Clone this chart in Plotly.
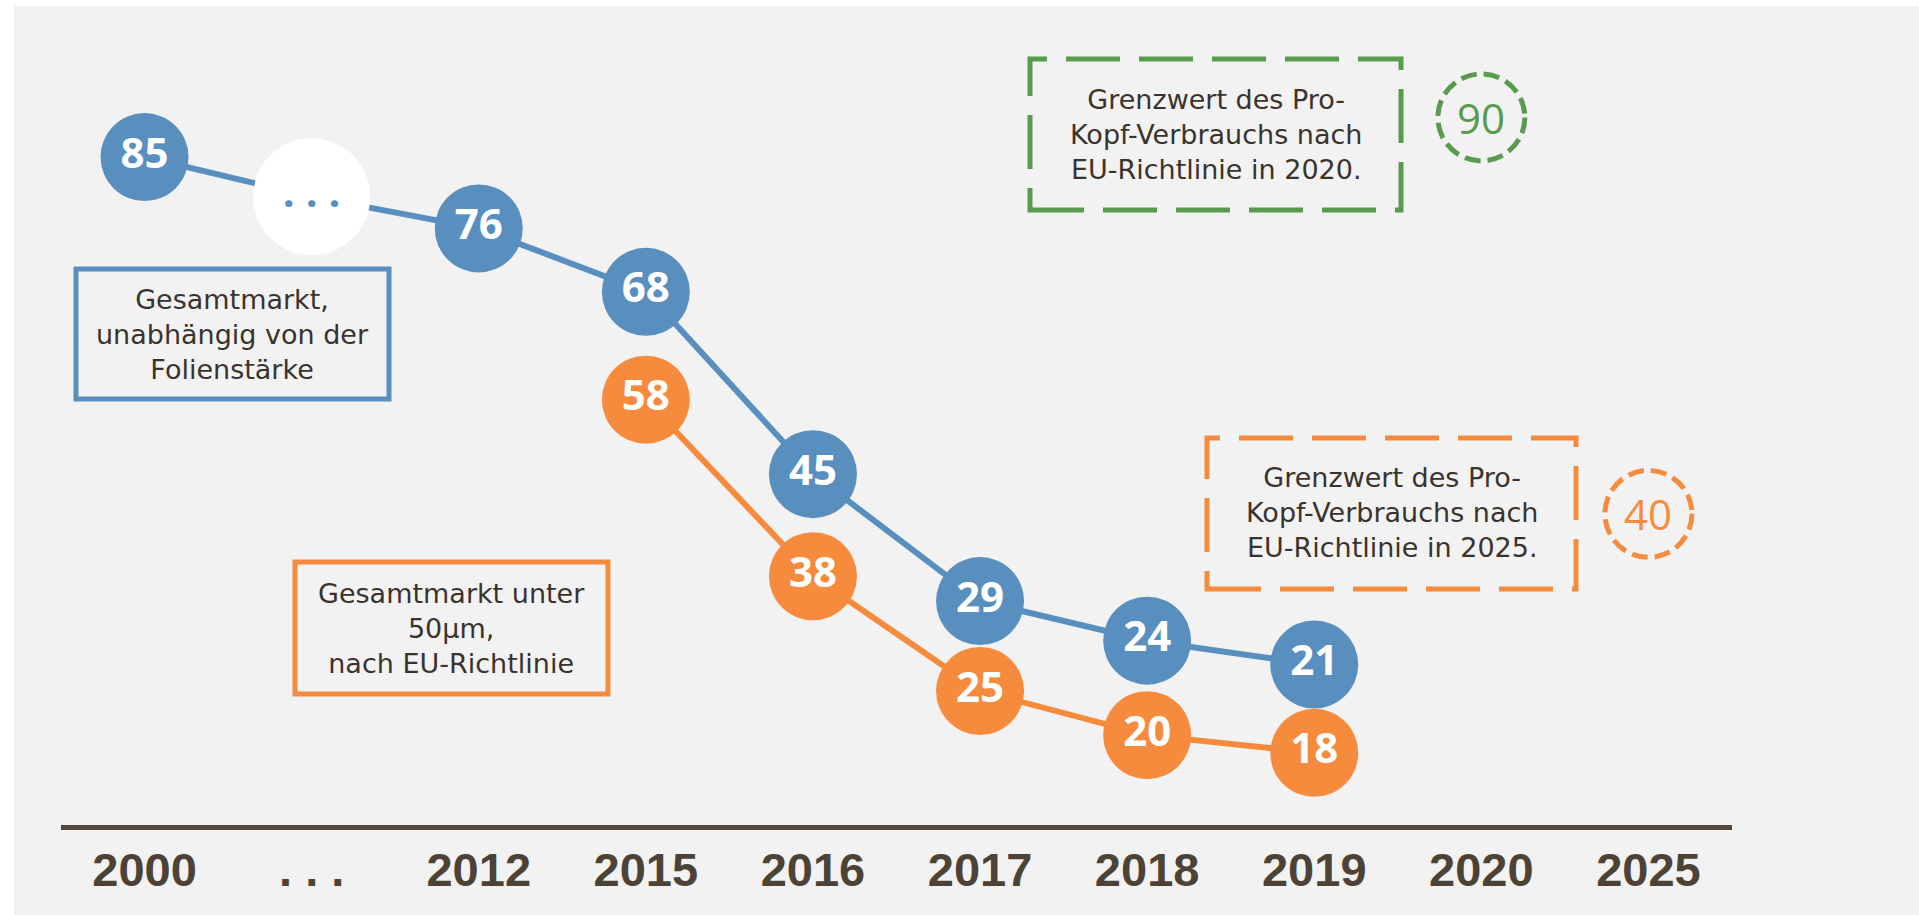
import plotly.graph_objects as go

# ---------------- data ----------------
categories = ["2000", "...", "2012", "2015", "2016", "2017", "2018", "2019", "2020", "2025"]
tick_labels = ["2000", ". . .", "2012", "2015", "2016", "2017", "2018", "2019", "2020", "2025"]

total_years = ["2000", "...", "2012", "2015", "2016", "2017", "2018", "2019"]
total_values = [85, 80, 76, 68, 45, 29, 24, 21]
total_labels = ["85", ". . .", "76", "68", "45", "29", "24", "21"]

thin_years = ["2015", "2016", "2017", "2018", "2019"]
thin_values = [58, 38, 25, 20, 18]

limit_years = ["2020", "2025"]
limit_values = [90, 40]

text_total = "Gesamtmarkt,<br>unabhängig von der<br>Folienstärke"
text_thin = "Gesamtmarkt unter<br>50µm,<br>nach EU-Richtlinie"
text_limit_2020 = "Grenzwert des Pro-<br>Kopf-Verbrauchs nach<br>EU-Richtlinie in 2020."
text_limit_2025 = "Grenzwert des Pro-<br>Kopf-Verbrauchs nach<br>EU-Richtlinie in 2025."

# ---------------- style ----------------
BLUE = "#588fbf"
ORANGE = "#f68b3d"
GREEN = "#5a9a4e"
TEXT = "#3a332d"
AXIS = "#54473a"
BG = "#f2f2f2"

FIG_W, FIG_H = 1919, 915
L, R, T, B = 61, 187, 35, 90
W = FIG_W - L - R
H = FIG_H - T - B


def xp(px):
    return (px - L) / W


def yp(py):
    return (FIG_H - B - py) / H


fig = go.Figure()

# blue series (total market)
fig.add_trace(go.Scatter(
    x=total_years, y=total_values,
    mode="lines+markers+text",
    line=dict(color=BLUE, width=6),
    marker=dict(
        size=[117 if c == "..." else 88 for c in total_years],
        color=["#ffffff" if c == "..." else BLUE for c in total_years],
        line=dict(width=0),
        opacity=1,
    ),
    text=total_labels,
    textposition="middle center",
    textfont=dict(
        family="Open Sans", size=42,
        color=[BLUE if c == "..." else "#ffffff" for c in total_years],
        weight="bold",
    ),
    cliponaxis=False,
    hoverinfo="skip",
    showlegend=False,
))

# orange series (< 50 µm)
fig.add_trace(go.Scatter(
    x=thin_years, y=thin_values,
    mode="lines+markers+text",
    line=dict(color=ORANGE, width=6),
    marker=dict(size=88, color=ORANGE, line=dict(width=0), opacity=1),
    text=[str(v) for v in thin_values],
    textposition="middle center",
    textfont=dict(family="Open Sans", size=42, color="#ffffff", weight="bold"),
    cliponaxis=False,
    yaxis="y2",
    hoverinfo="skip",
    showlegend=False,
))

shapes = [
    # background panel
    dict(type="rect", xref="paper", yref="paper", x0=xp(14), x1=xp(1919), y0=yp(6), y1=yp(915),
         fillcolor=BG, line=dict(width=0), layer="below"),
    # solid legend boxes
    dict(type="rect", xref="paper", yref="paper", x0=xp(76), x1=xp(389), y0=yp(399), y1=yp(269),
         line=dict(color=BLUE, width=5), layer="below"),
    dict(type="rect", xref="paper", yref="paper", x0=xp(295), x1=xp(608), y0=yp(694), y1=yp(562),
         line=dict(color=ORANGE, width=5), layer="below"),
    # dashed boxes
    dict(type="rect", xref="paper", yref="paper", x0=xp(1030), x1=xp(1401), y0=yp(210), y1=yp(59),
         line=dict(color=GREEN, width=5, dash="54px,19px"), layer="below"),
    dict(type="rect", xref="paper", yref="paper", x0=xp(1207), x1=xp(1576), y0=yp(589), y1=yp(438),
         line=dict(color=ORANGE, width=5, dash="54px,19px"), layer="below"),
]

limit_colors = [GREEN, ORANGE]
for yr, val, col in zip(limit_years, limit_values, limit_colors):
    idx = categories.index(yr)
    shapes.append(dict(
        type="circle", xref="x", yref="y",
        xsizemode="pixel", ysizemode="pixel",
        xanchor=idx, yanchor=val,
        x0=-43.5, x1=43.5, y0=-43.5, y1=43.5,
        line=dict(color=col, width=5, dash="16px,7px"),
        layer="above",
    ))

annotations = [
    dict(xref="paper", yref="paper", x=xp(232.5), y=yp(334), text=text_total),
    dict(xref="paper", yref="paper", x=xp(451.5), y=yp(628), text=text_thin),
    dict(xref="paper", yref="paper", x=xp(1215.5), y=yp(134), text=text_limit_2020),
    dict(xref="paper", yref="paper", x=xp(1391.5), y=yp(512), text=text_limit_2025),
]
for a in annotations:
    a.update(showarrow=False, xanchor="center", yanchor="middle", align="center",
             font=dict(family="DejaVu Sans", size=27, color=TEXT))

for yr, val, col in zip(limit_years, limit_values, limit_colors):
    annotations.append(dict(
        x=categories.index(yr), y=val, xref="x", yref="y", text=str(val),
        showarrow=False, xanchor="center", yanchor="middle",
        font=dict(family="Open Sans", size=42, color=col),
    ))

fig.update_layout(
    width=FIG_W, height=FIG_H,
    margin=dict(l=L, r=R, t=T, b=B, pad=0),
    paper_bgcolor="#ffffff",
    plot_bgcolor="rgba(0,0,0,0)",
    shapes=shapes,
    annotations=annotations,
    xaxis=dict(
        type="category",
        categoryorder="array", categoryarray=categories,
        tickvals=categories, ticktext=tick_labels,
        range=[-0.5, len(categories) - 0.5],
        showgrid=False, zeroline=False,
        showline=True, linecolor=AXIS, linewidth=5,
        ticks="",
        tickfont=dict(family="Liberation Sans Narrow, Arial Narrow, Liberation Sans, sans-serif",
                      size=47, color="#4d4236", weight="bold"),
        fixedrange=True,
    ),
    yaxis=dict(range=[0.76, 100.39], visible=False, showgrid=False, zeroline=False, fixedrange=True),
    yaxis2=dict(range=[9.82, 99.32], overlaying="y", visible=False, showgrid=False,
                zeroline=False, fixedrange=True),
)

fig.write_html("out.html")
